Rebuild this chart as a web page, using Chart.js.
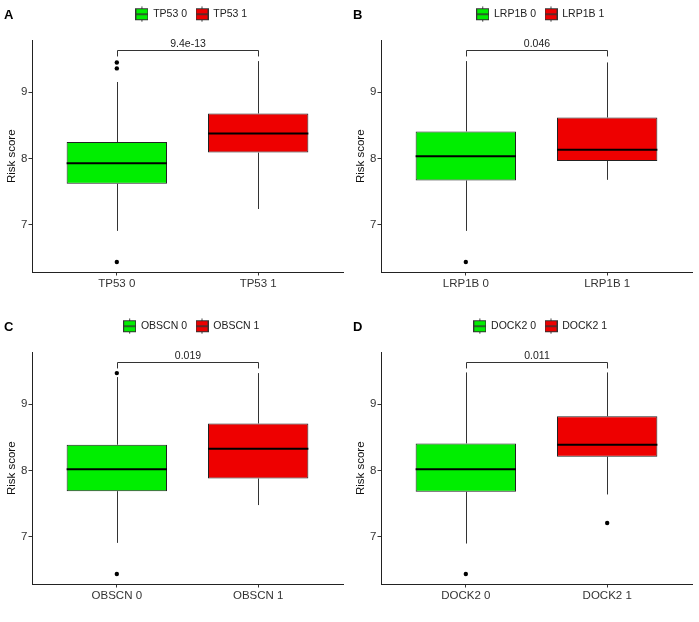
<!DOCTYPE html>
<html>
<head>
<meta charset="utf-8">
<script src="https://cdn.jsdelivr.net/npm/chart.js@4.4.0/dist/chart.umd.min.js"></script>
<style>
body { margin: 0; background: #fff; }
#wrap { position: relative; width: 699px; height: 622px; overflow: hidden; }
.panel { position: absolute; }
</style>
</head>
<body>
<div id="wrap">
  <div class="panel" style="left:0;top:0"><canvas id="c0" width="349" height="311"></canvas></div>
  <div class="panel" style="left:349px;top:0"><canvas id="c1" width="350" height="311"></canvas></div>
  <div class="panel" style="left:0;top:312px"><canvas id="c2" width="349" height="310"></canvas></div>
  <div class="panel" style="left:349px;top:312px"><canvas id="c3" width="350" height="310"></canvas></div>
</div>
<script>
// one entry per panel, each inner pair is [group 0, group 1]
const genes = ['TP53', 'LRP1B', 'OBSCN', 'DOCK2']
const panelLetters = ['A', 'B', 'C', 'D']
const pLabels = ['9.4e-13', '0.046', '0.019', '0.011']
const q1Values = [[7.62, 8.09], [7.67, 7.965], [7.69, 7.88], [7.68, 8.21]]
const medianValues = [[7.93, 8.38], [8.035, 8.135], [8.02, 8.33], [8.02, 8.39]]
const q3Values = [[8.25, 8.68], [8.41, 8.62], [8.39, 8.71], [8.41, 8.82]]
const lowWhiskers = [[6.91, 7.24], [6.91, 7.68], [6.91, 7.48], [6.90, 7.64]]
const highWhiskers = [[9.155, 9.47], [9.47, 9.45], [9.41, 9.47], [9.48, 9.48]]
const outlierValues = [
    [[9.45, 9.36, 6.44], []],
    [[6.44], []],
    [[9.47, 6.44], []],
    [[6.44], [7.21]]
]
const bracketY = [9.63, 9.63, 9.63, 9.63]
const bracketTip = 0.09
const yTicks = [7, 8, 9]
const yMin = 6.29
const yMax = 9.78

const fillColors = ['#00EE00', '#EE0000']
const FONT = "'Liberation Sans', Arial, sans-serif"

// little boxplot glyph for the legend
function makeKey(fill) {
    const c = document.createElement('canvas')
    c.width = 13
    c.height = 16
    const ctx = c.getContext('2d')
    ctx.strokeStyle = '#333'
    ctx.lineWidth = 1
    ctx.beginPath()
    ctx.moveTo(6.5, 0.5); ctx.lineTo(6.5, 3)
    ctx.moveTo(6.5, 13); ctx.lineTo(6.5, 15.5)
    ctx.stroke()
    ctx.fillStyle = fill
    ctx.fillRect(0.5, 2.5, 12, 11)
    ctx.strokeRect(0.5, 2.5, 12, 11)
    ctx.lineWidth = 1.5
    ctx.beginPath()
    ctx.moveTo(0.5, 8); ctx.lineTo(12.5, 8)
    ctx.stroke()
    return c
}
const keyImages = fillColors.map(makeKey)

const boxExtras = {
    id: 'boxExtras',
    afterLayout(chart) {
        // ggplot centres the legend a bit right of the plot centre
        chart.legend.left += 4
        chart.legend.right += 4
    },
    beforeDatasetsDraw(chart) {
        const p = chart.options.plugins.boxExtras
        const xs = chart.scales.x, ys = chart.scales.y
        const ctx = chart.ctx
        ctx.save()
        ctx.strokeStyle = '#333'
        ctx.lineWidth = 1
        for (let g = 0; g < 2; g++) {
            const x = Math.round(xs.getPixelForValue(g + 1)) + 0.5
            ctx.beginPath()
            ctx.moveTo(x, ys.getPixelForValue(p.q3[g]))
            ctx.lineTo(x, ys.getPixelForValue(p.high[g]))
            ctx.moveTo(x, ys.getPixelForValue(p.q1[g]))
            ctx.lineTo(x, ys.getPixelForValue(p.low[g]))
            ctx.stroke()
        }
        ctx.restore()
    },
    afterDatasetsDraw(chart) {
        const p = chart.options.plugins.boxExtras
        const xs = chart.scales.x, ys = chart.scales.y
        const ctx = chart.ctx
        ctx.save()
        ctx.strokeStyle = '#000'
        ctx.lineWidth = 2
        for (let g = 0; g < 2; g++) {
            const bar = chart.getDatasetMeta(g).data[0]
            const y = ys.getPixelForValue(p.median[g])
            ctx.beginPath()
            ctx.moveTo(bar.x - bar.width / 2, y)
            ctx.lineTo(bar.x + bar.width / 2, y)
            ctx.stroke()
        }
        // significance bracket
        const x1 = Math.round(xs.getPixelForValue(1)) + 0.5
        const x2 = Math.round(xs.getPixelForValue(2)) + 0.5
        const yb = Math.round(ys.getPixelForValue(p.bracket)) + 0.5
        const yt = ys.getPixelForValue(p.bracket - bracketTip)
        ctx.strokeStyle = '#333'
        ctx.lineWidth = 1
        ctx.beginPath()
        ctx.moveTo(x1, yt); ctx.lineTo(x1, yb); ctx.lineTo(x2, yb); ctx.lineTo(x2, yt)
        ctx.stroke()
        ctx.fillStyle = '#222'
        ctx.font = '10.5px ' + FONT
        ctx.textAlign = 'center'
        ctx.textBaseline = 'bottom'
        ctx.fillText(p.label, (x1 + x2) / 2, yb - 1.5)
        // panel letter
        ctx.fillStyle = '#000'
        ctx.font = 'bold 13px ' + FONT
        ctx.textAlign = 'left'
        ctx.textBaseline = 'alphabetic'
        ctx.fillText(p.letter, 4, 18.5)
        ctx.restore()
    }
}

function makePanel(i) {
    const gene = genes[i]
    const groupNames = [gene + ' 0', gene + ' 1']
    const datasets = []
    for (let g = 0; g < 2; g++) {
        datasets.push({
            type: 'bar',
            label: groupNames[g],
            data: [{ x: g + 1, y: [q1Values[i][g], q3Values[i][g]] }],
            backgroundColor: fillColors[g],
            borderColor: '#222',
            borderWidth: 1,
            borderSkipped: false,
            grouped: false,
            barPercentage: 0.71,
            categoryPercentage: 1
        })
    }
    for (let g = 0; g < 2; g++) {
        datasets.push({
            type: 'scatter',
            label: 'outliers ' + g,
            data: outlierValues[i][g].map(v => ({ x: g + 1, y: v })),
            backgroundColor: '#000',
            borderColor: '#000',
            pointRadius: 2.2,
            borderWidth: 0
        })
    }
    const ctx = document.getElementById('c' + i).getContext('2d')
    return new Chart(ctx, {
        type: 'bar',
        data: { datasets: datasets },
        plugins: [boxExtras],
        options: {
            responsive: false,
            animation: false,
            layout: { padding: { left: 0, right: (i % 2 ? 7 : 6), top: 0, bottom: 0 } },
            scales: {
                x: {
                    type: 'linear',
                    min: 0.4,
                    max: 2.6,
                    offset: false,
                    afterBuildTicks: s => { s.ticks = [{ value: 1 }, { value: 2 }] },
                    afterFit: s => { s.height = i < 2 ? 39 : 38 },
                    ticks: {
                        callback: v => groupNames[v - 1],
                        color: '#333',
                        font: { family: FONT, size: 11.5 },
                        padding: 1,
                        maxRotation: 0
                    },
                    grid: { display: true, offset: false, drawOnChartArea: false, drawTicks: true, tickLength: 3.5, color: '#333' },
                    border: { display: true, color: '#222', width: 1 }
                },
                y: {
                    min: yMin,
                    max: yMax,
                    afterBuildTicks: s => { s.ticks = yTicks.map(v => ({ value: v })) },
                    afterFit: s => { s.width = 32 },
                    ticks: {
                        color: '#333',
                        font: { family: FONT, size: 11.5 },
                        padding: 1
                    },
                    grid: { display: true, drawOnChartArea: false, drawTicks: true, tickLength: 3.5, color: '#333' },
                    border: { display: true, color: '#222', width: 1 },
                    title: {
                        display: true,
                        text: 'Risk score',
                        color: '#111',
                        font: { family: FONT, size: 11.5 },
                        padding: { top: 5, bottom: 0 }
                    }
                }
            },
            plugins: {
                // empty title used as a spacer between legend and plot
                title: {
                    display: true,
                    text: '',
                    position: 'top',
                    weight: 500,
                    padding: 0,
                    font: { size: 9.2 }
                },
                legend: {
                    position: 'top',
                    fullSize: false,
                    labels: {
                        usePointStyle: true,
                        pointStyleWidth: 12,
                        padding: 9,
                        color: '#222',
                        font: { family: FONT, size: 10.5 },
                        filter: item => item.datasetIndex < 2,
                        generateLabels: chart => groupNames.map((name, g) => ({
                            text: name,
                            pointStyle: keyImages[g],
                            datasetIndex: g,
                            hidden: false,
                            fontColor: '#222'
                        }))
                    }
                },
                tooltip: { enabled: false },
                boxExtras: {
                    q1: q1Values[i],
                    q3: q3Values[i],
                    median: medianValues[i],
                    low: lowWhiskers[i],
                    high: highWhiskers[i],
                    bracket: bracketY[i],
                    label: pLabels[i],
                    letter: panelLetters[i]
                }
            }
        }
    })
}

for (let i = 0; i < 4; i++) {
    makePanel(i)
}
</script>
</body>
</html>
